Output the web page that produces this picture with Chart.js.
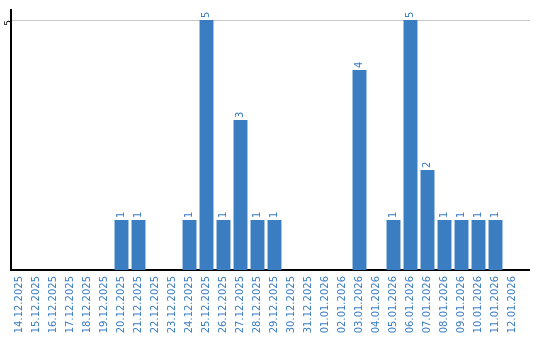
<!DOCTYPE html>
<html>
<head>
<meta charset="utf-8">
<script src="https://cdn.jsdelivr.net/npm/chart.js@4"></script>
<style>
  html, body { margin: 0; padding: 0; background: #fff; }
  #wrap { width: 540px; height: 340px; }
</style>
</head>
<body>
<div id="wrap"><canvas id="chart"></canvas></div>
<script>
// ── DADOS ───────────────────────────────────────────────────────────────────
const DAYS = [
  '14.12.2025','15.12.2025','16.12.2025','17.12.2025','18.12.2025','19.12.2025',
  '20.12.2025','21.12.2025','22.12.2025','23.12.2025','24.12.2025','25.12.2025',
  '26.12.2025','27.12.2025','28.12.2025','29.12.2025','30.12.2025','31.12.2025',
  '01.01.2026','02.01.2026','03.01.2026','04.01.2026','05.01.2026','06.01.2026',
  '07.01.2026','08.01.2026','09.01.2026','10.01.2026','11.01.2026','12.01.2026'
];
const COUNTS = [0,0,0,0,0,0, 1,1,0,0,1,5, 1,3,1,1,0,0, 0,0,4,0,1,5, 2,1,1,1,1,0];
const Y_TICKS = [5];

const BLUE = '#3b7dc1';
const FONT = 'DejaVu Sans';

// rótulos de valor girados acima das barras
const valueLabels = {
  id: 'valueLabels',
  afterDatasetsDraw(chart) {
    const ctx = chart.ctx;
    const meta = chart.getDatasetMeta(0);
    ctx.save();
    ctx.fillStyle = BLUE;
    ctx.font = '10px ' + FONT;
    ctx.textAlign = 'left';
    ctx.textBaseline = 'middle';
    meta.data.forEach((bar, i) => {
      const v = COUNTS[i];
      if (!v) return;
      ctx.save();
      ctx.translate(bar.x, bar.y - 2);
      ctx.rotate(-Math.PI / 2);
      ctx.fillText(String(v), 0, 0);
      ctx.restore();
    });
    ctx.restore();
  }
};

// as linhas de grade e a base passam um pouco da área do gráfico
const lineExtend = {
  id: 'lineExtend',
  afterDraw(chart) {
    const { ctx, chartArea, scales } = chart;
    const x0 = chartArea.right, x1 = chartArea.right + 9;
    ctx.save();
    Y_TICKS.forEach(v => {
      const y = Math.round(scales.y.getPixelForValue(v)) + 0.5;
      ctx.strokeStyle = '#c8c8c8'; ctx.lineWidth = 1;
      ctx.beginPath(); ctx.moveTo(x0, y); ctx.lineTo(x1, y); ctx.stroke();
    });
    const yb = scales.y.getPixelForValue(0);
    ctx.strokeStyle = '#000'; ctx.lineWidth = 2;
    ctx.beginPath(); ctx.moveTo(x0, yb); ctx.lineTo(x1, yb); ctx.stroke();
    ctx.restore();
  }
};

new Chart(document.getElementById('chart'), {
  type: 'bar',
  data: {
    labels: DAYS,
    datasets: [{ data: COUNTS, backgroundColor: BLUE, barPercentage: 0.82, categoryPercentage: 1 }]
  },
  options: {
    responsive: true,
    maintainAspectRatio: false,
    animation: false,
    layout: { padding: { top: 10, right: 19, left: 0, bottom: 0 } },
    plugins: { legend: { display: false }, tooltip: { enabled: false } },
    scales: {
      x: {
        grid: { display: false, drawTicks: false },
        border: { color: '#000', width: 2 },
        ticks: { color: BLUE, font: { family: FONT, size: 10 }, minRotation: 90, maxRotation: 90, padding: 6, autoSkip: false },
        afterFit(s) { s.height = 70; }
      },
      y: {
        min: 0, max: 5.2,
        afterBuildTicks(s) { s.ticks = Y_TICKS.map(v => ({ value: v })); },
        grid: { color: '#c8c8c8', drawTicks: false },
        border: { color: '#000', width: 2 },
        ticks: { color: '#000', font: { family: FONT, size: 9 }, minRotation: 90, maxRotation: 90, padding: 2 },
        afterFit(s) { s.width = 11; }
      }
    }
  },
  plugins: [valueLabels, lineExtend]
});
</script>
</body>
</html>
